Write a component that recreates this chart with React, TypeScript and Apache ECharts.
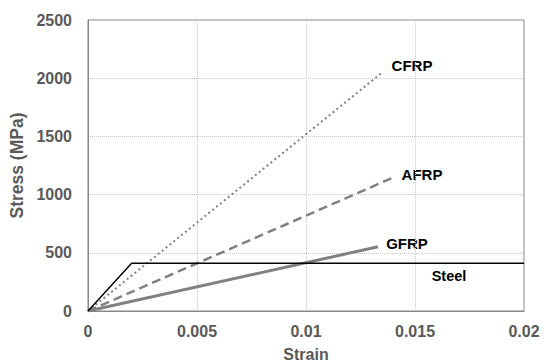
import React, { useEffect, useRef } from "react";
import * as echarts from "echarts";

const seriesNames = ["Steel", "CFRP", "AFRP", "GFRP"];
const steelStrain = [0, 0.002, 0.02];
const steelStress = [0, 410, 410];
const cfrpStrain = [0, 0.0135];
const cfrpStress = [0, 2050];
const afrpStrain = [0, 0.0141];
const afrpStress = [0, 1155];
const gfrpStrain = [0, 0.0133];
const gfrpStress = [0, 552];
const xTicks = [0, 0.005, 0.01, 0.015, 0.02];
const yTicks = [0, 500, 1000, 1500, 2000, 2500];

const zip = (xs: number[], ys: number[]) => xs.map((x, i) => [x, ys[i]]);

export default function App() {
  const ref = useRef<HTMLDivElement>(null);
  useEffect(() => {
    if (!ref.current) return;
    const chart = echarts.init(ref.current, null, { renderer: "svg" });
    const gray = "#595959";
    const font = "'Liberation Sans', Arial, sans-serif";
    chart.setOption({
      animation: false,
      grid: {
        left: 88,
        right: 22,
        top: 20,
        bottom: 52,
        show: true,
        borderColor: "#868686",
        borderWidth: 1,
        containLabel: false,
        outerBoundsMode: "none",
      },
      xAxis: {
        type: "value",
        min: xTicks[0],
        max: xTicks[xTicks.length - 1],
        interval: 0.005,
        name: "Strain",
        nameLocation: "middle",
        nameGap: 35,
        nameTextStyle: { color: gray, fontSize: 16, fontWeight: "bold", fontFamily: font },
        axisLine: { lineStyle: { color: "#868686", width: 1 } },
        axisTick: { show: false },
        axisLabel: {
          color: gray,
          fontSize: 16,
          fontWeight: "bold",
          fontFamily: font,
          margin: 12,
          formatter: (v: number) => String(v),
        },
        splitLine: { lineStyle: { color: "#c8c8c8", type: "dotted", width: 1 } },
      },
      yAxis: {
        type: "value",
        min: yTicks[0],
        max: yTicks[yTicks.length - 1],
        interval: 500,
        name: "Stress (MPa)",
        nameLocation: "middle",
        nameGap: 57,
        nameTextStyle: { color: gray, fontSize: 17.5, fontWeight: "bold", fontFamily: font },
        axisLine: { show: true, lineStyle: { color: "#868686", width: 1 } },
        axisTick: { show: false },
        axisLabel: {
          color: gray,
          fontSize: 16,
          fontWeight: "bold",
          fontFamily: font,
          margin: 16,
          formatter: (v: number) => String(v),
        },
        splitLine: { lineStyle: { color: "#c8c8c8", type: "dotted", width: 1 } },
      },
      series: [
        {
          name: seriesNames[0],
          type: "line",
          data: zip(steelStrain, steelStress),
          symbol: "none",
          lineStyle: { color: "#000000", width: 1.5 },
          z: 5,
        },
        {
          name: seriesNames[1],
          type: "line",
          data: zip(cfrpStrain, cfrpStress),
          symbol: "none",
          lineStyle: { color: "#808080", width: 2, type: [2, 3] },
        },
        {
          name: seriesNames[2],
          type: "line",
          data: zip(afrpStrain, afrpStress),
          symbol: "none",
          lineStyle: { color: "#808080", width: 2.5, type: [9, 5] },
        },
        {
          name: seriesNames[3],
          type: "line",
          data: zip(gfrpStrain, gfrpStress),
          symbol: "none",
          lineStyle: { color: "#808080", width: 3 },
        },
      ],
      graphic: [
        { type: "text", x: 412, y: 65, style: { text: "CFRP", fill: "#000", font: `bold 15px ${font}`, align: "center", verticalAlign: "middle" } },
        { type: "text", x: 422, y: 174, style: { text: "AFRP", fill: "#000", font: `bold 15px ${font}`, align: "center", verticalAlign: "middle" } },
        { type: "text", x: 407, y: 243, style: { text: "GFRP", fill: "#000", font: `bold 15px ${font}`, align: "center", verticalAlign: "middle" } },
        { type: "text", x: 449, y: 276, style: { text: "Steel", fill: "#000", font: `bold 14.5px ${font}`, align: "center", verticalAlign: "middle" } },
      ],
    });
    return () => chart.dispose();
  }, []);
  return <div ref={ref} style={{ width: 546, height: 363, position: "absolute", left: 0, top: 0 }} />;
}
